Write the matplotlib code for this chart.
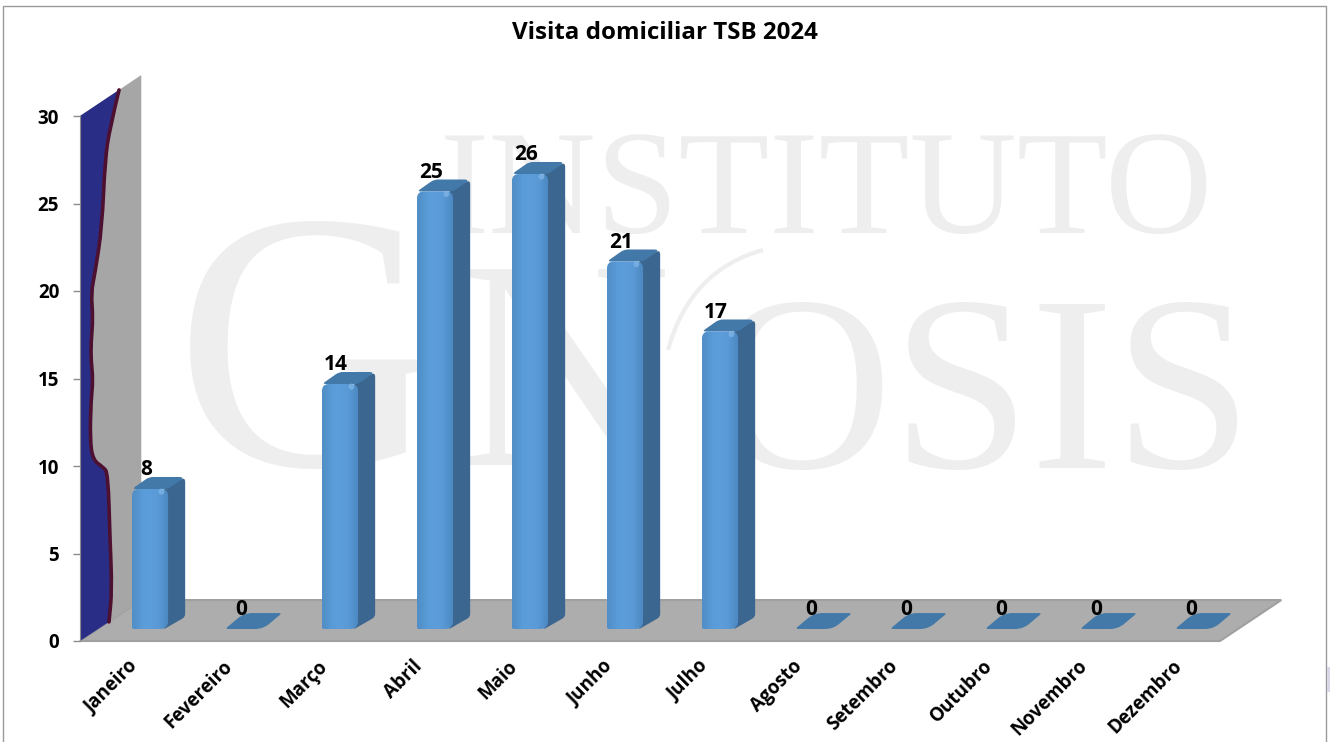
import numpy as np
import matplotlib
matplotlib.use('Agg')
import matplotlib.pyplot as plt
from matplotlib.patches import PathPatch, Polygon, Rectangle, Ellipse
from matplotlib.path import Path

plt.rcParams['font.family'] = ['Open Sans', 'DejaVu Sans']

months = ['Janeiro', 'Fevereiro', 'Março', 'Abril', 'Maio', 'Junho', 'Julho',
          'Agosto', 'Setembro', 'Outubro', 'Novembro', 'Dezembro']
visits = [8, 0, 14, 25, 26, 21, 17, 0, 0, 0, 0, 0]
y_ticks = [0, 5, 10, 15, 20, 25, 30]

# odd blue shape sitting on the side wall
wall_x = [-0.089, -0.184, -0.237, -0.268, -0.342, -0.384, -0.363, -0.384, -0.384,
          -0.363, -0.384, -0.395, -0.363, -0.258, -0.205, -0.184, -0.163, -0.195]
wall_y = [31.49, 29.37, 27.49, 23.66, 21.03, 19.89, 18.51, 17.03, 16.06,
          14.91, 13.77, 11.49, 10.34, 9.94, 9.6, 5.77, 2.91, 1.09]

W, H = 1330, 742
# depth of the fake 3d box and of the bars, in data units
DX, DY = 0.645, 2.34
BAR_OFF, BAR_W = 0.047, 0.38
BAR_DX, BAR_DY = 0.18, 0.686
ZERO_DY = 0.91
BASE = 0.686
PX = np.array([95.0, 17.5])  # pixels per data unit


def rounded(points, r):
    # closed path, corners cut by a quadratic curve, r in pixels for each corner
    pts = [np.array(p, dtype=float) for p in points]
    n = len(pts)
    verts, codes = [], []
    for k in range(n):
        p, prev, nxt = pts[k], pts[k - 1], pts[(k + 1) % n]
        a = p + (prev - p) * min(0.5, r[k] / np.linalg.norm((prev - p) * PX))
        b = p + (nxt - p) * min(0.5, r[k] / np.linalg.norm((nxt - p) * PX))
        verts.append(a)
        codes.append(Path.MOVETO if k == 0 else Path.LINETO)
        verts += [p, b]
        codes += [Path.CURVE3, Path.CURVE3]
    verts.append(verts[0])
    codes.append(Path.CLOSEPOLY)
    return Path(verts, codes)


def smooth_edge(xs, ys):
    # quadratic curve through the midpoints of the read points
    p = np.column_stack([xs, ys])
    verts = [p[0]]
    codes = [Path.MOVETO]
    for k in range(1, len(p) - 1):
        verts += [p[k], (p[k] + p[k + 1]) / 2]
        codes += [Path.CURVE3, Path.CURVE3]
    verts.append(p[-1])
    codes.append(Path.LINETO)
    return Path(verts, codes)


fig = plt.figure(figsize=(W / 100, H / 100), dpi=100)
ax = fig.add_axes([80 / W, (H - 641) / H, 1140 / W, 525 / H])
ax.patch.set_alpha(0)
ax.set_xlim(-0.5, 11.5)
ax.set_ylim(0, 30)

# watermark
wm = dict(transform=fig.transFigure, family='Liberation Serif', color='#eeeeee',
          zorder=0, clip_on=False, va='baseline', ha='left')
ax.text(440 / W, 1 - 233 / H, 'INSTITUTO', fontsize=107, **wm)
ax.text(175 / W, 1 - 465 / H, 'G', fontsize=265, **wm)
ax.text(455 / W, 1 - 465 / H, 'N', fontsize=215, **wm)
ax.text(712 / W, 1 - 468 / H, 'OSIS', fontsize=180, **wm)
swash = Path([(668 / W, 1 - 350 / H), (690 / W, 1 - 270 / H), (763 / W, 1 - 250 / H)],
             [Path.MOVETO, Path.CURVE3, Path.CURVE3])
ax.add_patch(PathPatch(swash, transform=fig.transFigure, fc='none', ec='#eeeeee', lw=3,
                       zorder=0, clip_on=False))

# floor and wall
floor = Polygon([(-0.5, 0), (11.5, 0), (11.5 + DX, DY), (-0.5 + DX, DY)], closed=True,
                fc='#adadad', ec='#a0a0a0', lw=1.5, zorder=1, clip_on=False)
wall = Polygon([(-0.5, 0), (-0.5 + DX, DY), (-0.5 + DX, 30 + DY), (-0.5, 30)], closed=True,
               fc='#a6a6a6', ec='none', zorder=1, clip_on=False)
ax.add_patch(floor)
ax.add_patch(wall)
edge = smooth_edge(wall_x, wall_y)
blob_verts = np.vstack([[(-0.5, 30)], edge.vertices, [(-0.5, 0)], [(-0.5, 30)]])
blob_codes = [Path.MOVETO, Path.LINETO] + list(edge.codes[1:]) + [Path.LINETO, Path.CLOSEPOLY]
ax.add_patch(PathPatch(Path(blob_verts, blob_codes), fc='#2a2d86', ec='none', zorder=2, clip_on=False))
ax.add_patch(PathPatch(edge, fc='none', ec='#4d1030', lw=2.6, zorder=3, clip_on=False,
                       capstyle='round', joinstyle='round'))

# horizontal shading of the front face
grad = np.array([[0.32, 0.56, 0.78], [0.35, 0.61, 0.85], [0.36, 0.62, 0.86],
                 [0.36, 0.61, 0.85], [0.35, 0.60, 0.84], [0.30, 0.54, 0.76]])[None, :, :]

for i, v in enumerate(visits):
    x0 = i + BAR_OFF
    x1 = x0 + BAR_W
    y0 = BASE
    y1 = BASE + v
    z = 4 + i * 0.1
    if v > 0:
        side = [(x1 - 0.04, y0), (x1 + BAR_DX, y0 + BAR_DY), (x1 + BAR_DX, y1 + BAR_DY), (x1 - 0.04, y1)]
        ax.add_patch(PathPatch(rounded(side, [0, 3, 5, 0]), fc='#3b6690', ec='none',
                               zorder=z, clip_on=False))
        top = [(x0, y1), (x1, y1), (x1 + BAR_DX, y1 + BAR_DY), (x0 + BAR_DX, y1 + BAR_DY)]
        ax.add_patch(PathPatch(rounded(top, [4, 4, 6, 4]), fc='#4379a8', ec='none',
                               zorder=z + 0.01, clip_on=False))
        front = PathPatch(rounded([(x0, y0), (x1, y0), (x1, y1), (x0, y1)], [2, 8, 7, 7]),
                          fc='none', ec='none', zorder=z + 0.02, clip_on=False)
        ax.add_patch(front)
        im = ax.imshow(grad, extent=[x0, x1, y0, y1], aspect='auto', zorder=z + 0.02,
                       interpolation='bicubic')
        im.set_clip_path(front)
        ax.add_patch(Ellipse((x1 - 0.07, y1 - 0.15), 0.06, 0.35, fc='#8cc0ee', ec='none', alpha=0.6,
                             zorder=z + 0.03, clip_on=False))
    else:
        top = [(x0 - 0.02, y0), (x1, y0), (x1 + BAR_DX + 0.02, y0 + ZERO_DY), (x0 + BAR_DX, y0 + ZERO_DY)]
        ax.add_patch(PathPatch(rounded(top, [3, 8, 3, 8]), fc='#4379a8', ec='none',
                               zorder=z, clip_on=False))
    ax.text(i + 0.195, v + 1.78, str(v), ha='center', va='center', fontsize=15,
            fontweight='bold', color='black', zorder=9, clip_on=False)

ax.set_xlim(-0.5, 11.5)
ax.set_ylim(0, 30)

ax.set_xticks(range(len(months)))
ax.set_xticklabels(months, rotation=45, ha='right', rotation_mode='anchor',
                   fontsize=13.5, fontweight='bold')
ax.tick_params(axis='x', length=0, pad=11)
ax.set_yticks(y_ticks)
ax.set_yticklabels([str(t) for t in y_ticks], fontsize=13.5, fontweight='bold')
ax.tick_params(axis='y', length=5, width=1, color='#8c8c8c', pad=10)
for s in ['top', 'right', 'bottom']:
    ax.spines[s].set_visible(False)
ax.spines['left'].set_color('#8c8c8c')

fig.text(665 / W, 1 - 33 / H, 'Visita domiciliar TSB 2024', ha='center', va='center',
         fontsize=17.4, fontweight='bold')

# outer frame of the pasted chart
fig.add_artist(Rectangle((3 / W, -0.02), 1323 / W, 1.02 - 6 / H, transform=fig.transFigure,
                         fc='none', ec='#9a9a9a', lw=1))
fig.add_artist(Rectangle((1327 / W, 1 - 692 / H), 3 / W, 25 / H, transform=fig.transFigure,
                         fc='#d8d8e8', ec='none'))

plt.savefig('out.png', dpi=100)
